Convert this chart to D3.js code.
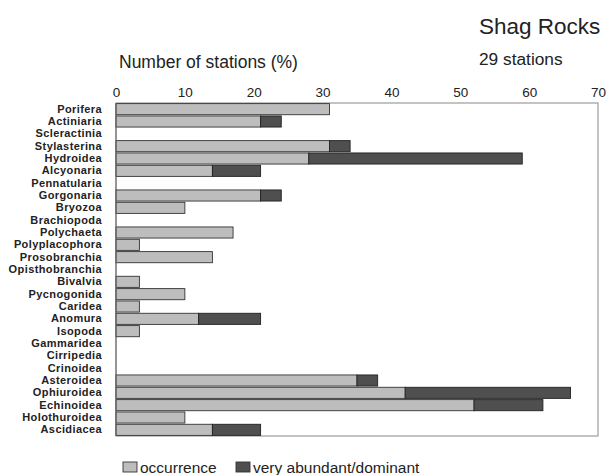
<!DOCTYPE html>
<html><head><meta charset="utf-8">
<script src="https://cdn.jsdelivr.net/npm/d3@7"></script>
<style>body{margin:0;background:#fff}svg{display:block}text{font-family:"Liberation Sans",Arial,sans-serif}</style>
</head><body><svg id="c" width="606" height="475"></svg>
<script>
const categories = ["Porifera","Actiniaria","Scleractinia","Stylasterina","Hydroidea","Alcyonaria","Pennatularia","Gorgonaria","Bryozoa","Brachiopoda","Polychaeta","Polyplacophora","Prosobranchia","Opisthobranchia","Bivalvia","Pycnogonida","Caridea","Anomura","Isopoda","Gammaridea","Cirripedia","Crinoidea","Asteroidea","Ophiuroidea","Echinoidea","Holothuroidea","Ascidiacea"];
const occurrence = [31,21,0,31,28,14,0,21,10,0,17,3.4,14,0,3.4,10,3.4,12,3.4,0,0,0,35,42,52,10,14];
const dominant   = [0,3,0,3,31,7,0,3,0,0,0,0,0,0,0,0,0,9,0,0,0,0,3,24,10,0,7];
const ticks = [0,10,20,30,40,50,60,70];
const seriesNames = ["occurrence","very abundant/dominant"];
const colors = ["#bdbdbd","#4f4f4f"];

const svg = d3.select("#c");
const L=116,R=598,T=103,B=436;
const x = d3.scaleLinear().domain([0,70]).range([L,R]);
const y = d3.scaleBand().domain(categories).range([T,B]).paddingInner(0.1).paddingOuter(0.05);

svg.append("rect").attr("x",L).attr("y",T).attr("width",R-L).attr("height",B-T)
  .attr("fill","none").attr("stroke","#888").attr("stroke-width",1);

const data = categories.map((c,i)=>({c,o:occurrence[i],d:dominant[i]}));
const g = svg.append("g");
g.selectAll("rect.o").data(data.filter(d=>d.o>0)).join("rect")
  .attr("x",x(0)).attr("y",d=>y(d.c)).attr("width",d=>x(d.o)-x(0)).attr("height",y.bandwidth())
  .attr("fill",colors[0]).attr("stroke","#333").attr("stroke-width",0.9);
g.selectAll("rect.d").data(data.filter(d=>d.d>0)).join("rect")
  .attr("x",d=>x(d.o)).attr("y",d=>y(d.c)).attr("width",d=>x(d.o+d.d)-x(d.o)).attr("height",y.bandwidth())
  .attr("fill",colors[1]).attr("stroke","#222").attr("stroke-width",0.9);

svg.append("line").attr("x1",L).attr("x2",L).attr("y1",T).attr("y2",B).attr("stroke","#666");

const ax = svg.append("g").attr("transform",`translate(0,${T})`)
  .call(d3.axisTop(x).tickValues(ticks).tickSize(0).tickPadding(6));
ax.select(".domain").remove();
ax.selectAll("text").attr("font-size",13.5).attr("fill","#222")
  .attr("font-family","Liberation Sans, Arial, sans-serif");

const ay = svg.append("g").attr("transform",`translate(${L},0)`)
  .call(d3.axisLeft(y).tickSize(0).tickPadding(14));
ay.select(".domain").remove();
ay.selectAll("text").attr("font-size",11).attr("font-weight","bold").attr("fill","#222")
  .attr("letter-spacing",0.4)
  .attr("font-family","Liberation Sans, Arial, sans-serif");

svg.append("text").attr("x",479).attr("y",34).attr("font-size",22.5).attr("fill","#222").text("Shag Rocks");
svg.append("text").attr("x",479).attr("y",65).attr("font-size",17.3).attr("fill","#222").text("29 stations");
svg.append("text").attr("x",119).attr("y",68).attr("font-size",17.5).attr("fill","#222").text("Number of stations (%)");

const leg = [{x:123,t:seriesNames[0],c:colors[0]},{x:236,t:seriesNames[1],c:colors[1]}];
const lg = svg.selectAll("g.leg").data(leg).join("g").attr("transform",d=>`translate(${d.x},462)`);
lg.append("rect").attr("width",14).attr("height",10).attr("fill",d=>d.c).attr("stroke","#333").attr("stroke-width",0.9);
lg.append("text").attr("x",17).attr("y",10.5).attr("font-size",15.5).attr("fill","#222").text(d=>d.t);
</script></body></html>
